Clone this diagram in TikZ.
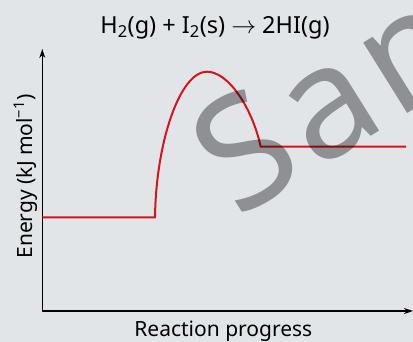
\documentclass[tikz,border=0pt]{standalone}
\usepackage{fontspec}
\setmainfont{Noto Sans}
\usepackage{tikz}
\usetikzlibrary{arrows.meta}
\usetikzlibrary{positioning}
\definecolor{bgcol}{RGB}{225,229,232}
\definecolor{curvered}{RGB}{215,20,26}
\definecolor{markgray}{RGB}{161,161,162}

\begin{document}
\begin{tikzpicture}[x=1pt,y=1pt,>={Stealth[length=9pt,width=6pt]},
	  axis line/.style={draw=black,line width=1.1pt},
	  energy curve/.style={draw=curvered,line width=2pt,line join=miter},
	  label text/.style={font=\fontsize{21}{25}\selectfont,inner sep=0pt}]

	 \fill[bgcol] (0,0) rectangle (413,342);
	 \useasboundingbox (0,0) rectangle (413,342);

	 % axes
	 \coordinate (origin) at (42.3,31);
	 \coordinate (ytip) at (42.3,293);
	 \coordinate (xtip) at (413,31);
	 \draw[axis line,->] (origin) -- (ytip);
	 \draw[axis line,->] (origin) -- (xtip);

	 % energy profile
	 \coordinate (react) at (42.3,124.7);
	 \coordinate (rise) at (155,124.7);
	 \coordinate (peak) at (207,270.3);
	 \coordinate (drop) at (260.7,195.3);
	 \coordinate (prod) at (406,195.3);
	 \draw[energy curve] (react) -- (rise)
	    .. controls (156,200) and (180,270.3) .. (peak)
	    .. controls (228,270.3) and (252,235) .. (drop) -- (prod);

	 % labels
	 \node[label text,anchor=base,font=\fontsize{23.5}{27}\selectfont] (title) at (215,308.7)
	    {H\textsubscript{2}(g) + I\textsubscript{2}(s) $\rightarrow$ 2HI(g)};
	 \node[label text,anchor=base,rotate=90] (ylabel) at (32.3,165.5)
	    {Energy (kJ mol\textsuperscript{−1})};
	 \node[label text,anchor=base] (xlabel) at (223.3,5) {Reaction progress};

	 % watermark
	 \begin{scope}[blend mode=multiply]
	 \node[text=markgray,font=\fontsize{155}{155}\selectfont,inner sep=0pt,
	    anchor=base west,rotate=32] (mark) at (237,122)
	    {S\kern8pt a\kern8pt m\kern8pt p\kern8pt l\kern8pt e};
	 \end{scope}
\end{tikzpicture}
\end{document}
